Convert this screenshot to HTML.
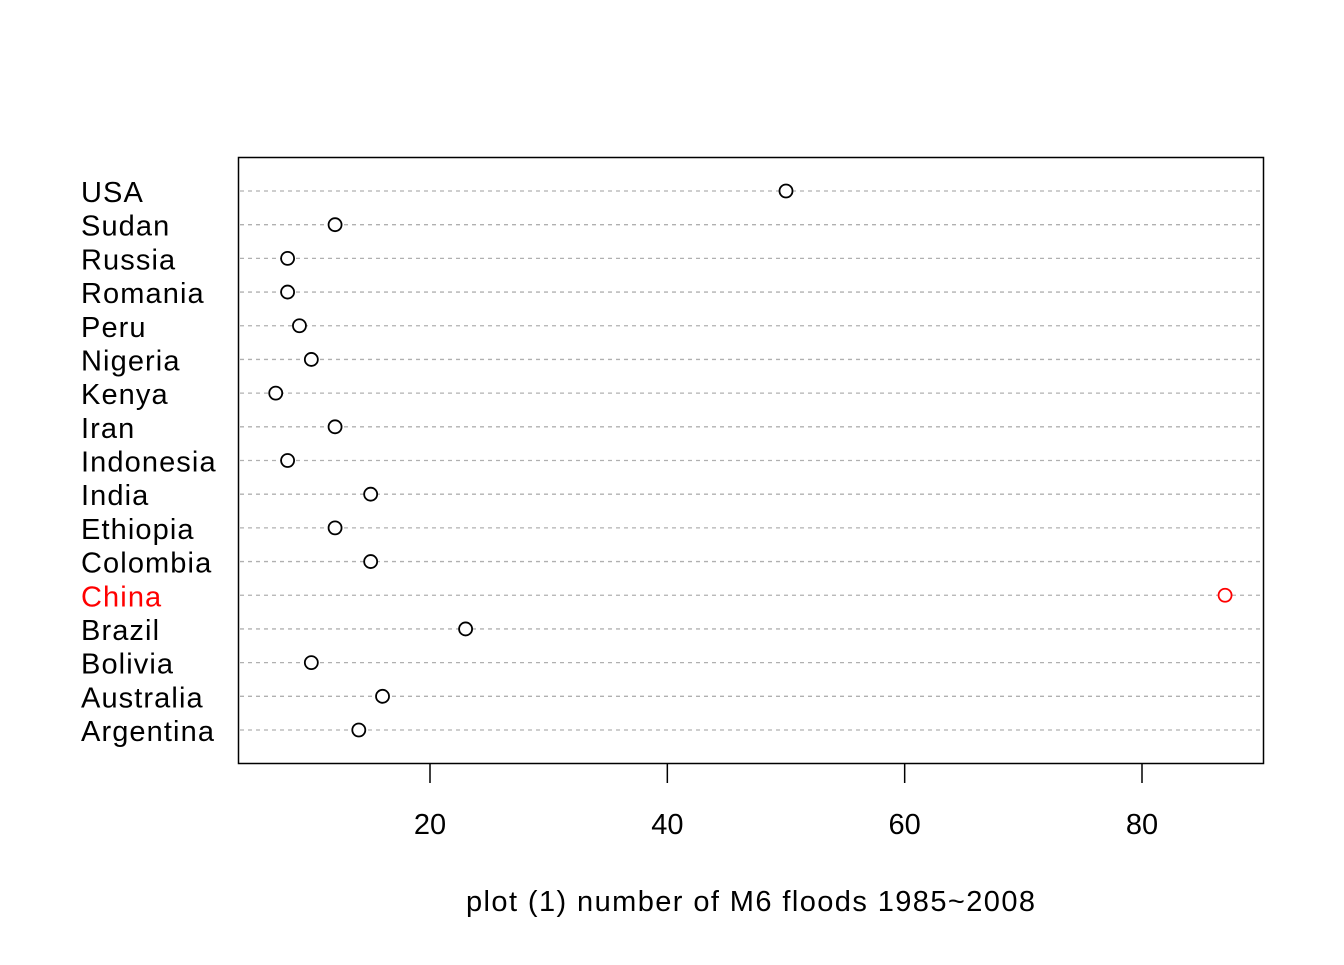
<!DOCTYPE html>
<html><head><meta charset="utf-8"><style>
html,body{margin:0;padding:0;background:#fff;}
svg text{font-family:"Liberation Sans",Arial,sans-serif;}
</style></head><body>
<svg id="chart" width="1344" height="960" xmlns="http://www.w3.org/2000/svg">
<rect x="238.5" y="157.5" width="1025" height="606" fill="none" stroke="#000" stroke-width="1.5"/>
<g id="rows"></g>
<g id="xaxis"></g>
<text x="750.5" y="911" font-size="29" text-anchor="middle" textLength="569" lengthAdjust="spacing">plot (1) number of M6 floods 1985~2008</text>
</svg>
<script>
const countries = ["USA","Sudan","Russia","Romania","Peru","Nigeria","Kenya","Iran","Indonesia","India","Ethiopia","Colombia","China","Brazil","Bolivia","Australia","Argentina"];
const floods = [50,12,8,8,9,10,7,12,8,15,12,15,87,23,10,16,14];
const highlight = ["China"];
const xTicks = [20,40,60,80];

const NS="http://www.w3.org/2000/svg";
function xs(v){return 430+(v-20)*(1142-430)/60;}
function ys(i){return 191+i*(730-191)/(countries.length-1);}
function mk(tag,attrs,parent){const e=document.createElementNS(NS,tag);for(const k in attrs)e.setAttribute(k,attrs[k]);parent.appendChild(e);return e;}

const rows=document.getElementById('rows');
countries.forEach((c,i)=>{
  const y=ys(i);
  const red=highlight.includes(c);
  const ln=mk('line',{x1:240,x2:1262,y1:y,y2:y,stroke:'#b0b0b0','stroke-width':1.3,'stroke-dasharray':'4 4'},rows);
  
  
  const t=mk('text',{x:81,y:y+11,'font-size':29,'letter-spacing':'1.1',fill:red?'#ff0000':'#000'},rows);
  t.textContent=c;
  
  
  const p=mk('circle',{cx:xs(floods[i]),cy:y,r:6.5,fill:'#fff',stroke:red?'#ff0000':'#000','stroke-width':1.8},rows);
  
  
});
const xa=document.getElementById('xaxis');
xTicks.forEach(v=>{
  const x=xs(v);
  const tk=mk('line',{x1:x,x2:x,y1:764,y2:783,stroke:'#000','stroke-width':1.5},xa);
  
  
  const t=mk('text',{x:x,y:834,'font-size':29,'text-anchor':'middle'},xa);
  t.textContent=v;
  
  
});
</script>
</body></html>
